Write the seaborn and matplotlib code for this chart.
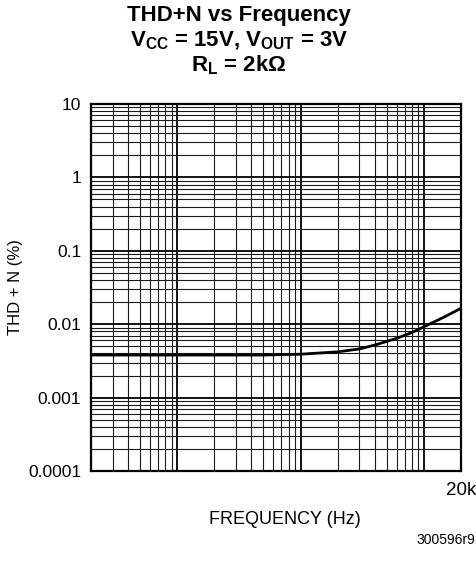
import matplotlib
matplotlib.use("Agg")
import matplotlib.pyplot as plt
import seaborn as sns
import numpy as np
import pandas as pd
from matplotlib.ticker import FixedLocator, FixedFormatter, LogLocator, NullFormatter

freq_hz = [20, 50, 100, 200, 500, 700, 1000, 2000, 3000, 4000, 6000, 8000, 10000, 15000, 20000]
thd_pct = [0.0038, 0.0038, 0.0038, 0.0038, 0.0038, 0.00385, 0.0039, 0.0042, 0.0046, 0.0052,
           0.0064, 0.0077, 0.0092, 0.0128, 0.0165]
y_ticks = [10, 1, 0.1, 0.01, 0.001, 0.0001]
y_tick_labels = ["10", "1", "0.1", "0.01", "0.001", "0.0001"]
x_ticks = [100, 1000, 10000, 20000]
x_tick_labels = ["", "", "", "20k"]

sns.set_style("white")
plt.rcParams["font.family"] = ["Liberation Sans", "DejaVu Sans"]
plt.rcParams["text.color"] = "black"
plt.rcParams["axes.labelcolor"] = "black"
plt.rcParams["xtick.color"] = "black"
plt.rcParams["ytick.color"] = "black"
plt.rcParams["mathtext.fontset"] = "custom"
plt.rcParams["mathtext.rm"] = "Liberation Sans:bold"
plt.rcParams["mathtext.it"] = "Liberation Sans:bold"
plt.rcParams["mathtext.bf"] = "Liberation Sans:bold"
plt.rcParams["mathtext.default"] = "rm"

df = pd.DataFrame({"freq": freq_hz, "thd": thd_pct})

fig = plt.figure(figsize=(4.77, 5.65), dpi=100)
ax = fig.add_axes([91/477, 1 - 471/565, 370/477, 367/565])

ax.set_xscale("log")
ax.set_yscale("log")
ax.set_xlim(20, 20000)
ax.set_ylim(0.0001, 10)

ax.xaxis.set_major_locator(FixedLocator(x_ticks))
ax.xaxis.set_major_formatter(FixedFormatter(x_tick_labels))
ax.xaxis.set_minor_locator(LogLocator(base=10, subs=np.arange(2, 10), numticks=20))
ax.xaxis.set_minor_formatter(NullFormatter())
ax.yaxis.set_major_locator(FixedLocator(y_ticks))
ax.yaxis.set_major_formatter(FixedFormatter(y_tick_labels))
ax.yaxis.set_minor_locator(LogLocator(base=10, subs=np.arange(2, 10), numticks=20))
ax.yaxis.set_minor_formatter(NullFormatter())

ax.grid(which="major", color="black", linewidth=1.3)
ax.grid(which="minor", color="#1a1a1a", linewidth=0.8)
ax.set_axisbelow(True)

sns.lineplot(data=df, x="freq", y="thd", ax=ax, color="black", linewidth=2.0)

ax.tick_params(which="both", length=0)
ax.tick_params(axis="y", labelsize=12.5, pad=7, labelcolor="black")
ax.tick_params(axis="x", labelsize=13.5, pad=8, labelcolor="black")
for s in ax.spines.values():
    s.set_color("black")
    s.set_linewidth(1.6)

ax.set_xlabel("FREQUENCY (Hz)", fontsize=13, va="center", color="black")
ax.xaxis.set_label_coords((284.5 - 91) / 370, (471 - 520) / 367)
ax.set_ylabel("THD + N (%)", fontsize=12, va="center", color="black")
ax.yaxis.set_label_coords((16 - 91) / 370, 0.5)

tx = 239/477
fig.text(tx, 1 - 16/565, "THD+N vs Frequency", ha="center", va="center",
         fontsize=16, fontweight="bold", color="black")
fig.text(tx, 1 - 41/565, r"V$_{CC}$ = 15V, V$_{OUT}$ = 3V", ha="center", va="center",
         fontsize=16, fontweight="bold", color="black")
fig.text(tx, 1 - 65/565, r"R$_{L}$ = 2k$\Omega$", ha="center", va="center",
         fontsize=16, fontweight="bold", color="black")
fig.text(475/477, 1 - 540/565, "300596r9", ha="right", va="center", fontsize=10, color="black")

fig.savefig("out.png", dpi=100)
